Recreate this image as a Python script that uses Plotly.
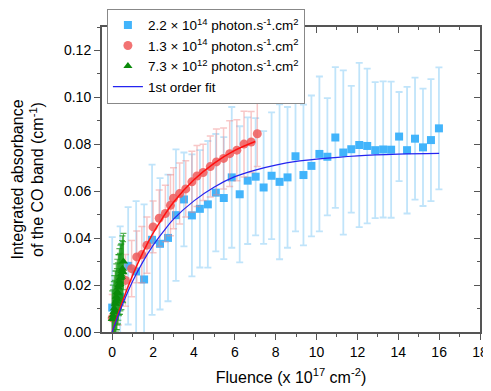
import plotly.graph_objects as go

FONT = "Liberation Sans, Arial, sans-serif"

# 2.2e14 photon flux series (blue squares)
blue_x = [0.00, 0.39, 0.78, 1.17, 1.56, 1.95, 2.34, 2.73, 3.12, 3.51, 3.90, 4.29, 4.68, 5.07,
          5.46, 5.85, 6.24, 6.63, 7.02, 7.41, 7.80, 8.19, 8.58, 8.97, 9.36, 9.75, 10.14, 10.53,
          10.92, 11.31, 11.70, 12.09, 12.48, 12.87, 13.26, 13.65, 14.04, 14.43, 14.82, 15.21,
          15.60, 15.99]
blue_y = [0.0104, 0.0150, 0.0282, 0.0258, 0.0224, 0.0393, 0.0376, 0.0401, 0.0498, 0.0565,
          0.0497, 0.0525, 0.0544, 0.0594, 0.0571, 0.0659, 0.0587, 0.0645, 0.0662, 0.0616,
          0.0666, 0.0640, 0.0659, 0.0749, 0.0669, 0.0708, 0.0759, 0.0747, 0.0829, 0.0765,
          0.0779, 0.0797, 0.0793, 0.0775, 0.0778, 0.0777, 0.0833, 0.0775, 0.0824, 0.0787,
          0.0818, 0.0868]
blue_err = [0.030, 0.030, 0.025, 0.030, 0.032, 0.032, 0.028, 0.027, 0.028, 0.020, 0.026,
            0.025, 0.027, 0.025, 0.026, 0.030, 0.029, 0.027, 0.025, 0.024, 0.027, 0.033,
            0.030, 0.032, 0.030, 0.030, 0.033, 0.025, 0.030, 0.035, 0.027, 0.035, 0.033,
            0.029, 0.029, 0.029, 0.019, 0.027, 0.026, 0.025, 0.026, 0.026]

# 1.3e14 series (red circles)
red_x = [0.00, 0.30, 0.65, 0.95, 1.20, 1.45, 1.70, 2.00, 2.30, 2.60, 2.85, 3.00, 3.30, 3.60,
         3.90, 4.15, 4.45, 4.80, 5.10, 5.45, 5.75, 6.10, 6.45, 6.80, 7.10]
red_y = [0.0060, 0.0130, 0.0220, 0.0270, 0.0320, 0.0330, 0.0370, 0.0448, 0.0485, 0.0505,
         0.0540, 0.0570, 0.0590, 0.0610, 0.0640, 0.0665, 0.0680, 0.0705, 0.0725, 0.0740,
         0.0760, 0.0775, 0.0801, 0.0810, 0.0845]
red_err = [0.010, 0.010, 0.011, 0.012, 0.011, 0.012, 0.012, 0.011, 0.012, 0.012, 0.013,
           0.013, 0.013, 0.012, 0.013, 0.013, 0.012, 0.013, 0.014, 0.013, 0.014, 0.013,
           0.014, 0.013, 0.014]

# 7.3e12 series (green triangles)
green_x = [0.00, 0.03, 0.05, 0.08, 0.10, 0.13, 0.15, 0.18, 0.20, 0.23, 0.25, 0.28, 0.30,
           0.33, 0.35, 0.38, 0.40, 0.43, 0.45, 0.48, 0.50, 0.53, 0.55]
green_y = [0.0055, 0.0070, 0.0060, 0.0085, 0.0100, 0.0090, 0.0120, 0.0130, 0.0150, 0.0140,
           0.0170, 0.0165, 0.0190, 0.0200, 0.0215, 0.0205, 0.0230, 0.0245, 0.0235, 0.0260,
           0.0270, 0.0255, 0.0300]
green_err = [0.012, 0.013, 0.012, 0.013, 0.014, 0.013, 0.014, 0.013, 0.014, 0.013, 0.014,
             0.013, 0.014, 0.013, 0.014, 0.013, 0.014, 0.013, 0.014, 0.013, 0.014, 0.013, 0.012]

# fitted curves
fit_blue_x = [0, 0.5, 1, 1.5, 2, 2.5, 3, 4, 5, 6, 7, 8, 9, 10, 12, 14, 16]
fit_blue_y = [0, 0.0116, 0.0216, 0.0299, 0.0369, 0.0428, 0.0481, 0.0559, 0.0618, 0.0662,
              0.0690, 0.0711, 0.0727, 0.0737, 0.0751, 0.0758, 0.0761]
fit_red_x = [0, 0.5, 1, 1.5, 2, 2.5, 3, 4, 5, 6, 7]
fit_red_y = [0, 0.0130, 0.0242, 0.0338, 0.0421, 0.0491, 0.0553, 0.0649, 0.0720, 0.0774, 0.0812]

LEGEND_BLUE = "2.2 × 10<sup>14</sup> photon.s<sup>-1</sup>.cm<sup>2</sup>"
LEGEND_RED = "1.3 × 10<sup>14</sup> photon.s<sup>-1</sup>.cm<sup>2</sup>"
LEGEND_GREEN = "7.3 × 10<sup>12</sup> photon.s<sup>-1</sup>.cm<sup>2</sup>"

fig = go.Figure()

fig.add_trace(go.Scatter(
    x=blue_x, y=blue_y, mode="markers", name=LEGEND_BLUE,
    marker=dict(symbol="square", size=8, color="#42b4fb"),
    error_y=dict(type="data", array=blue_err, color="rgba(140,205,245,0.55)",
                 thickness=1.8, width=3.5)))
fig.add_trace(go.Scatter(
    x=red_x, y=red_y, mode="markers", name=LEGEND_RED,
    marker=dict(symbol="circle", size=9, color="rgba(240,90,90,0.85)"),
    error_y=dict(type="data", array=red_err, color="rgba(240,130,130,0.45)",
                 thickness=1.5, width=3.5)))
fig.add_trace(go.Scatter(
    x=green_x, y=green_y, mode="markers", name=LEGEND_GREEN,
    marker=dict(symbol="triangle-up", size=8, color="#0a8a0a"),
    error_y=dict(type="data", array=green_err, color="rgba(20,150,20,0.7)",
                 thickness=1.2, width=3)))
fig.add_trace(go.Scatter(
    x=fit_red_x, y=fit_red_y, mode="lines", showlegend=False,
    line=dict(color="#ff1010", width=1.5, shape="spline")))
fig.add_trace(go.Scatter(
    x=fit_blue_x, y=fit_blue_y, mode="lines", name="1st order fit",
    line=dict(color="#2424f0", width=1.2, shape="spline")))
# invisible trace so the mirrored top/right axes get drawn
fig.add_trace(go.Scatter(x=[0], y=[0], xaxis="x2", yaxis="y2", mode="markers",
                         marker=dict(opacity=0), showlegend=False, hoverinfo="skip"))

AX_COLOR = "#555555"
common = dict(showgrid=False, zeroline=False, showline=True, linecolor=AX_COLOR,
              linewidth=2, tickcolor=AX_COLOR, tickwidth=1.3, automargin=False)

# the page body adds an 8px margin, so the figure is a bit smaller than the window
fig.update_layout(
    width=483, height=383,
    margin=dict(l=94, r=11, t=19, b=59, autoexpand=False),
    plot_bgcolor="white", paper_bgcolor="white",
    font=dict(family=FONT, size=14, color="#000000"),
    xaxis=dict(range=[-0.5, 18], tick0=0, dtick=2, ticks="outside", ticklen=6,
               minor=dict(dtick=1, tick0=0, ticks="outside", ticklen=3, tickcolor=AX_COLOR),
               title=dict(text="Fluence (x 10<sup>17</sup> cm<sup>-2</sup>)",
                          font=dict(size=16), standoff=13),
               **common),
    yaxis=dict(range=[0, 0.13], tick0=0, dtick=0.02, tickformat=".2f", ticks="outside",
               ticklen=6,
               minor=dict(dtick=0.01, tick0=0, ticks="outside", ticklen=3, tickcolor=AX_COLOR),
               title=dict(text="Integrated absorbance<br>of the CO band (cm<sup>-1</sup>)",
                          font=dict(size=16), standoff=16),
               **common),
    xaxis2=dict(range=[-0.5, 18], overlaying="x", side="top", tick0=0, dtick=2,
                ticks="inside", ticklen=6, showticklabels=False,
                minor=dict(dtick=1, tick0=0, ticks="inside", ticklen=3, tickcolor=AX_COLOR),
                **common),
    yaxis2=dict(range=[0, 0.13], overlaying="y", side="right", tick0=0, dtick=0.02,
                ticks="inside", ticklen=6, showticklabels=False,
                minor=dict(dtick=0.01, tick0=0, ticks="inside", ticklen=3, tickcolor=AX_COLOR),
                **common),
    legend=dict(x=0.013, y=1.06, xanchor="left", yanchor="top",
                bgcolor="white", bordercolor="#888888", borderwidth=1,
                font=dict(size=13.5), tracegroupgap=0, itemwidth=30),
    showlegend=True,
)

fig.write_html("out.html")
